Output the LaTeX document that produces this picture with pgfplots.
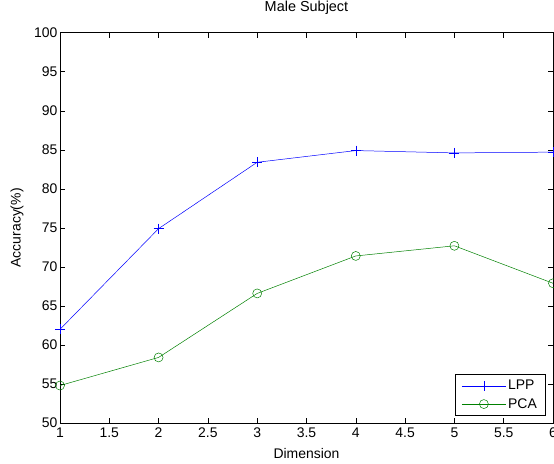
\documentclass[border=0pt]{standalone}
\usepackage{fontspec}
\setmainfont{Liberation Sans}
\usepackage{pgfplots}
\pgfplotsset{compat=1.18}
\definecolor{mgreen}{rgb}{0,0.5,0}
\begin{document}
\begin{tikzpicture}[x=1bp,y=1bp]
\begin{axis}[
    at={(60bp,41bp)}, anchor=south west,
    scale only axis,
    width=493bp, height=390.3bp,
    xmin=1, xmax=6, ymin=50, ymax=100,
    xtick={1,1.5,...,6},
    ytick={50,55,...,100},
    tick align=inside,
    major tick length=5bp,
    axis line style={black, line width=0.6pt},
    every tick/.style={black, line width=0.5pt},
    /pgf/number format/assume math mode=true,
    tick label style={font=\fontsize{14}{16}\selectfont},
    xticklabel style={yshift=-1bp},
    yticklabel style={xshift=1bp},
    title={Male Subject},
    title style={font=\fontsize{14.5}{16}\selectfont,
        at={(axis description cs:0.5,1.048)}, anchor=center},
    xlabel={Dimension},
    ylabel={Accuracy(\%)},
    label style={font=\fontsize{14}{16}\selectfont},
    xlabel style={at={(axis description cs:0.5,-0.0794)}, anchor=center},
    ylabel style={at={(axis description cs:-0.087,0.5)}, anchor=center},
    legend style={at={(0.984,0.018)}, anchor=south east,
        font=\fontsize{14}{16}\selectfont, line width=0.6pt,
        inner xsep=6bp, inner ysep=4bp, row sep=3bp},
    legend cell align=left,
    legend image code/.code={%
        \draw[mark repeat=2, mark phase=2, line width=0.5pt, #1]
            plot coordinates {(0bp,0bp) (22bp,0bp) (44bp,0bp)};},
]
\addplot[blue, line width=0.5pt, mark=+, mark size=5bp,
    mark options={line width=0.5pt}] coordinates {
    (1,62.0) (2,74.9) (3,83.4) (4,84.9) (5,84.6) (6,84.7)
};
\addlegendentry{LPP}
\addplot[mgreen, line width=0.5pt, mark=o, mark size=4.5bp,
    mark options={line width=0.5pt}] coordinates {
    (1,54.8) (2,58.4) (3,66.6) (4,71.4) (5,72.7) (6,67.9)
};
\addlegendentry{PCA}
\end{axis}
\pgfresetboundingbox
\path[use as bounding box] (0,0) rectangle (554bp,464bp);
\end{tikzpicture}
\end{document}
